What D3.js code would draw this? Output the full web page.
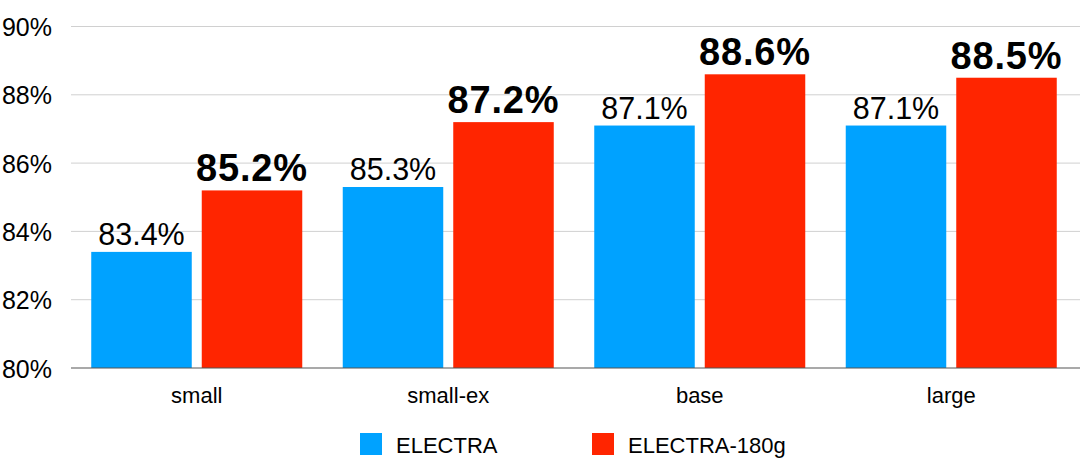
<!DOCTYPE html>
<html><head><meta charset="utf-8">
<script src="https://cdn.jsdelivr.net/npm/d3@7"></script>
<style>body{margin:0;background:#fff}svg{display:block;font-family:"Liberation Sans",Arial,Helvetica,sans-serif}</style>
</head><body><svg id="c" width="1080" height="458"></svg>
<script>
const categories = ["small", "small-ex", "base", "large"];
const seriesNames = ["ELECTRA", "ELECTRA-180g"];
const electra = [83.4, 85.3, 87.1, 87.1];
const electra180g = [85.2, 87.2, 88.6, 88.5];
const yTicks = [80, 82, 84, 86, 88, 90];
const colors = ["#00a2ff", "#ff2500"];

const svg = d3.select("#c");
const x0 = d3.scaleBand().domain(categories).range([71, 1077]).paddingInner(0.161).paddingOuter(0.0805);
const x1 = d3.scaleBand().domain(seriesNames).range([0, x0.bandwidth()]).paddingInner(0.0905);
const y = d3.scaleLinear().domain([80, 90]).range([368, 26.5]);

// gridlines
svg.append("g").selectAll("line").data(yTicks.filter(t => t !== 80)).join("line")
  .attr("x1", 71).attr("x2", 1080).attr("y1", d => y(d)).attr("y2", d => y(d))
  .attr("stroke", "#d0d0d0").attr("stroke-width", 1);

// y labels
svg.append("g").selectAll("text").data(yTicks).join("text")
  .attr("x", 52).attr("y", d => y(d) + 9.5).attr("text-anchor", "end")
  .attr("font-size", 25).attr("fill", "#000").text(d => d + "%");

const data = categories.map((c, i) => ({cat: c, vals: [electra[i], electra180g[i]]}));

const g = svg.append("g").selectAll("g").data(data).join("g")
  .attr("transform", d => `translate(${x0(d.cat)},0)`);

g.selectAll("rect").data(d => d.vals.map((v, j) => ({v, s: seriesNames[j], j}))).join("rect")
  .attr("x", d => x1(d.s)).attr("width", x1.bandwidth())
  .attr("y", d => y(d.v)).attr("height", d => y(80) - y(d.v))
  .attr("fill", d => colors[d.j]);

g.selectAll("text.val").data(d => d.vals.map((v, j) => ({v, s: seriesNames[j], j}))).join("text")
  .attr("class", "val")
  .attr("x", d => x1(d.s) + x1.bandwidth() / 2)
  .attr("y", d => y(d.v) - (d.j === 1 ? 9 : 7))
  .attr("text-anchor", "middle")
  .attr("font-size", d => d.j === 1 ? 38 : 30.5)
  .attr("font-weight", d => d.j === 1 ? "bold" : "normal")
  .attr("letter-spacing", d => d.j === 1 ? 0.8 : 0)
  .attr("fill", "#000")
  .text(d => d.v.toFixed(1) + "%");

// baseline
svg.append("line").attr("x1", 71).attr("x2", 1080).attr("y1", y(80)).attr("y2", y(80))
  .attr("stroke", "#555").attr("stroke-width", 1.2);

// category labels
svg.append("g").selectAll("text").data(categories).join("text")
  .attr("x", d => x0(d) + x0.bandwidth() / 2).attr("y", 403)
  .attr("text-anchor", "middle").attr("font-size", 22).attr("fill", "#000").text(d => d);

// legend
const legX = [360, 592];
const leg = svg.append("g").selectAll("g").data(seriesNames).join("g")
  .attr("transform", (d, i) => `translate(${legX[i]},433)`);
leg.append("rect").attr("width", 22).attr("height", 22).attr("fill", (d, i) => colors[i]);
leg.append("text").attr("x", 36).attr("y", 20).attr("font-size", 22).attr("fill", "#000").text(d => d);
</script></body></html>
